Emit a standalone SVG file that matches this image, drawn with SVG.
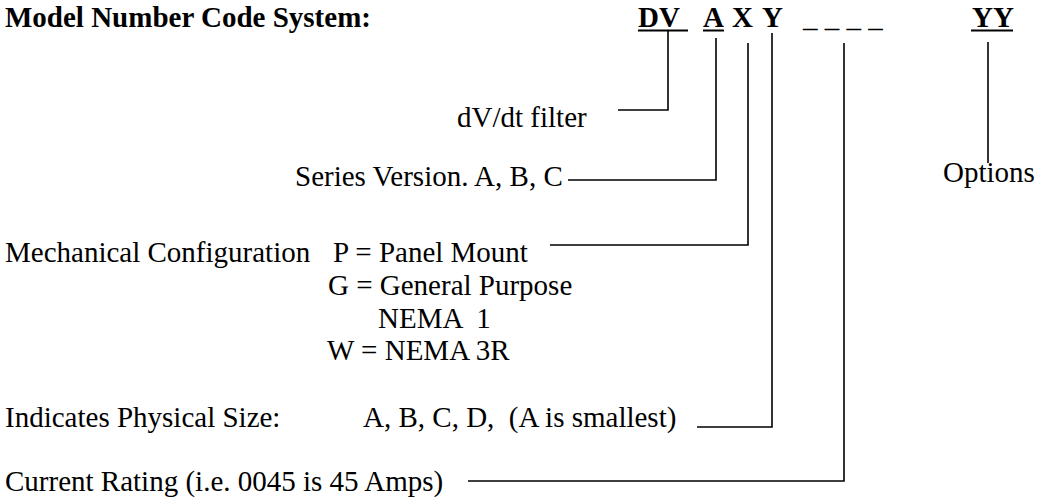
<svg xmlns="http://www.w3.org/2000/svg" width="1037" height="504" viewBox="0 0 1037 504">
<style>
text{font-family:"Liberation Serif","Times New Roman",serif;font-size:29px;fill:#000;white-space:pre}
.b{font-weight:bold}
.ul{stroke:#000;stroke-width:2;fill:none}
.c{stroke:#000;stroke-width:1.6;fill:none}
</style>
<rect width="1037" height="504" fill="#fff"/>
<g id="title"><text class="b" x="5" y="27">Model Number Code System:</text></g>
<g id="code">
<text class="b" x="638" y="27">DV</text>
<text class="b" x="703" y="27">A</text>
<text class="b" x="732" y="27">X</text>
<text class="b" x="762" y="27">Y</text>
<text x="803" y="27">_ _ _ _</text>
<text class="b" x="972" y="27">YY</text>
<line class="ul" x1="638" y1="30.5" x2="688" y2="30.5"/>
<line class="ul" x1="703" y1="30.5" x2="724" y2="30.5"/>
<line class="ul" x1="971" y1="30.5" x2="1013" y2="30.5"/>
</g>
<g id="connectors">
<path class="c" d="M668 31V110H618"/>
<path class="c" d="M716 38V180H568"/>
<path class="c" d="M748 43V245H550"/>
<path class="c" d="M772 33V427H697"/>
<path class="c" d="M844 43V481H468"/>
<path class="c" d="M988 42V163"/>
</g>
<g id="dvdt"><text x="457" y="127">dV/dt filter</text></g>
<g id="series"><text x="295" y="186">Series Version. A, B, C</text></g>
<g id="options"><text x="943" y="182">Options</text></g>
<g id="mech">
<text x="5" y="262">Mechanical Configuration</text>
<text x="333" y="262">P = Panel Mount</text>
<text x="328" y="295">G = General Purpose</text>
<text x="378" y="328">NEMA  1</text>
<text x="327" y="360">W = NEMA 3R</text>
</g>
<g id="size">
<text x="5" y="427">Indicates Physical Size:</text>
<text x="363" y="427">A, B, C, D,  (A is smallest)</text>
</g>
<g id="current"><text x="5" y="491">Current Rating (i.e. 0045 is 45 Amps)</text></g>
</svg>
